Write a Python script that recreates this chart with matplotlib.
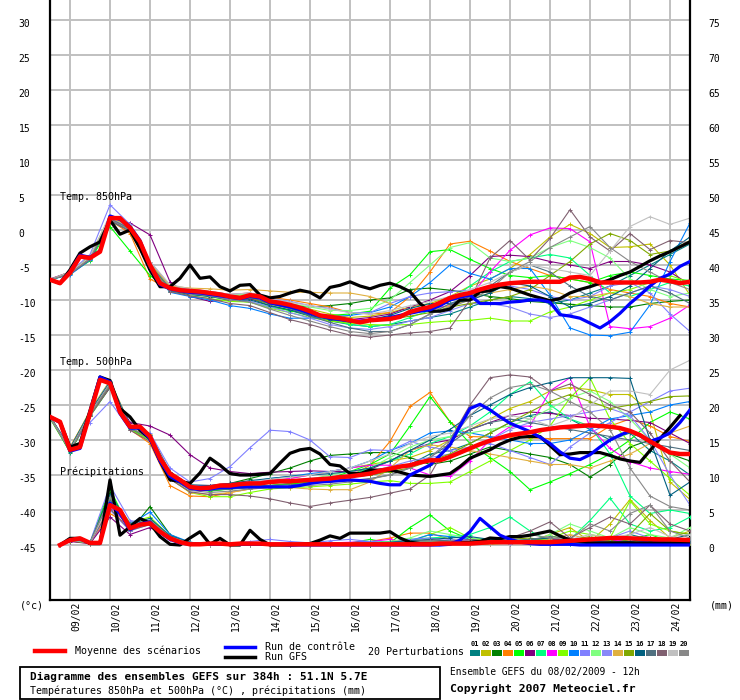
import numpy as np
import matplotlib
matplotlib.use('Agg')
import matplotlib.pyplot as plt
from matplotlib.lines import Line2D
from matplotlib.patches import Rectangle
from matplotlib.transforms import ScaledTranslation

plt.rcParams['font.family'] = ['DejaVu Sans Mono', 'DejaVu Sans']

# ---------------- DATA ----------------
DATES = ['09/02', '10/02', '11/02', '12/02', '13/02', '14/02', '15/02', '16/02',
         '17/02', '18/02', '19/02', '20/02', '21/02', '22/02', '23/02', '24/02']
HOURS_6 = list(range(0, 385, 6))          # main runs, 6-hourly
HOURS_12 = list(range(0, 385, 12))        # perturbations, 12-hourly
PRECIP_HOURS_6 = list(range(6, 385, 6))
PRECIP_HOURS_12 = [6] + list(range(12, 385, 12))

PERT_COLORS = ['#008080', '#c0c000', '#008000', '#ff8000', '#00ff00', '#800080', '#00ff80',
               '#ff00ff', '#80ff00', '#0080ff', '#8080ff', '#80ff80', '#8888f8', '#e0b040',
               '#80a800', '#006080', '#507080', '#806070', '#c0c0c0', '#888888']
PERT_NUMBERS = ['01', '02', '03', '04', '05', '06', '07', '08', '09', '10',
                '11', '12', '13', '14', '15', '16', '17', '18', '19', '20']

T850_MEAN = [-7.1, -7.6, -6.1, -3.8, -4.0, -3.1, 1.7, 1.7, 0.3, -1.7,
             -5.0, -7.6, -8.3, -8.6, -8.7, -8.8, -9.0, -9.2, -9.5, -9.7,
             -9.3, -9.5, -10.2, -10.4, -10.7, -11.1, -11.6, -12.2, -12.4, -12.6,
             -12.9, -13.2, -12.9, -12.8, -12.7, -12.4, -11.7, -11.3, -11.0, -10.4,
             -9.7, -9.3, -9.0, -8.5, -8.1, -7.8, -7.6, -7.5, -7.4, -7.4,
             -7.4, -7.4, -6.8, -6.7, -7.0, -7.5, -7.5, -7.5, -7.5, -7.5,
             -7.4, -7.1, -7.3, -7.6, -7.4]
T850_GFS = [-7.1, -7.6, -5.7, -3.3, -2.4, -1.7, 1.4, -0.6, 0.0, -2.6,
            -5.7, -8.1, -8.1, -6.9, -5.0, -6.9, -6.7, -8.1, -8.7, -7.9,
            -7.8, -9.3, -9.7, -9.5, -9.0, -8.6, -8.9, -9.7, -8.2, -7.9,
            -7.4, -8.0, -8.4, -7.9, -7.6, -8.1, -8.8, -10.5, -11.6, -11.6,
            -11.3, -10.0, -10.0, -8.8, -8.7, -8.1, -8.3, -8.8, -9.3, -9.7,
            -10.1, -9.8, -9.0, -8.5, -8.1, -7.6, -7.1, -6.5, -6.0, -5.2,
            -4.4, -3.7, -3.1, -2.4, -1.7]
T850_CTRL = [-7.1, -7.6, -6.0, -3.6, -3.9, -3.0, 2.0, 1.5, 0.5, -1.5,
             -5.2, -7.8, -8.4, -8.7, -8.9, -9.0, -9.2, -9.4, -9.6, -9.8,
             -9.5, -9.7, -10.4, -10.7, -11.0, -11.4, -11.9, -12.3, -12.6, -12.8,
             -13.0, -13.1, -12.9, -12.7, -12.5, -12.2, -11.9, -11.6, -11.4, -10.8,
             -10.0, -9.6, -9.3, -10.5, -10.5, -10.5, -10.3, -10.2, -10.0, -10.0,
             -10.3, -12.1, -12.3, -12.6, -13.3, -14.0, -13.1, -11.9, -10.5, -9.3,
             -8.0, -6.9, -6.3, -5.2, -4.5]

T500_MEAN = [-26.7, -27.4, -31.4, -31.0, -26.2, -21.4, -21.9, -26.0, -28.1, -28.1,
             -29.5, -32.6, -34.8, -35.7, -36.7, -36.9, -36.8, -36.5, -36.5, -36.3,
             -36.2, -36.2, -36.0, -35.9, -35.9, -35.8, -35.7, -35.6, -35.5, -35.3,
             -35.2, -35.0, -34.8, -34.4, -34.1, -33.8, -33.6, -33.2, -32.9, -32.9,
             -32.4, -31.8, -31.2, -30.6, -30.1, -29.7, -29.3, -29.1, -28.9, -28.6,
             -28.4, -28.2, -28.1, -28.0, -27.9, -28.0, -28.1, -28.3, -28.7, -29.3,
             -30.2, -31.0, -31.8, -32.0, -32.0]
T500_GFS = [-26.7, -27.4, -31.0, -30.5, -25.8, -21.0, -21.5, -25.5, -26.7, -28.6,
            -29.8, -33.0, -35.7, -35.9, -36.2, -34.7, -32.6, -33.6, -34.8, -35.0,
            -35.0, -34.9, -34.8, -33.3, -31.9, -31.4, -31.2, -32.0, -33.5, -33.7,
            -34.8, -34.8, -34.3, -34.3, -34.3, -34.6, -35.0, -35.1, -35.2, -35.0,
            -34.8, -33.8, -32.6, -32.0, -31.4, -30.6, -30.0, -29.6, -29.5, -29.5,
            -30.8, -32.1, -32.0, -31.8, -31.8, -31.8, -32.2, -32.7, -33.0, -33.2,
            -31.5, -29.8, -28.2, -26.5]
T500_CTRL = [-26.7, -27.5, -31.6, -31.2, -26.0, -21.0, -21.7, -26.2, -28.3, -28.3,
             -29.8, -33.0, -35.2, -36.0, -36.9, -37.1, -37.0, -36.8, -36.8, -36.7,
             -36.7, -36.7, -36.7, -36.7, -36.7, -36.5, -36.2, -36.0, -35.9, -35.8,
             -35.7, -35.8, -35.9, -36.2, -36.4, -36.4, -35.0, -34.3, -33.6, -32.2,
             -30.7, -28.0, -25.5, -24.9, -25.7, -26.7, -27.6, -28.2, -28.8, -29.6,
             -30.5, -31.7, -32.6, -32.8, -32.1, -31.0, -30.0, -29.3, -28.7, -29.4,
             -30.2, -29.7, -29.0, -27.5, -25.7]

PRECIP_MEAN = [0.0, 0.7, 0.95, 0.3, 0.3, 5.7, 5.0, 2.4, 2.9, 3.1,
               1.9, 0.95, 0.4, 0.1, 0.1, 0.2, 0.2, 0.1, 0.2, 0.2,
               0.2, 0.1, 0.1, 0.1, 0.1, 0.1, 0.1, 0.1, 0.1, 0.1,
               0.1, 0.1, 0.1, 0.1, 0.1, 0.1, 0.1, 0.1, 0.2, 0.2,
               0.2, 0.2, 0.3, 0.4, 0.4, 0.4, 0.4, 0.4, 0.4, 0.4,
               0.5, 0.6, 0.7, 0.8, 0.9, 1.0, 1.0, 0.95, 0.9, 0.85,
               0.8, 0.8, 0.75, 0.7]
PRECIP_GFS = [0.0, 0.95, 0.95, 0.2, 0.2, 9.3, 1.4, 2.6, 3.8, 3.1,
              1.2, 0.1, 0.0, 1.0, 1.9, 0.1, 0.95, 0.0, 0.0, 2.1,
              0.8, 0.0, 0.0, 0.0, 0.1, 0.2, 0.7, 1.3, 0.95, 1.7,
              1.7, 1.7, 1.7, 1.9, 1.0, 0.4, 0.2, 0.2, 0.2, 0.2,
              0.3, 0.4, 0.5, 1.0, 0.9, 1.2, 1.2, 1.4, 1.7, 2.0,
              1.3, 0.7, 0.5, 0.3, 0.3, 0.3, 0.3, 0.3, 0.3, 0.3,
              0.3, 0.3, 0.3, 0.3]
PRECIP_CTRL = [0.0, 0.7, 0.9, 0.3, 0.3, 6.0, 4.5, 2.2, 3.0, 3.3,
               1.8, 0.8, 0.3, 0.1, 0.1, 0.1, 0.1, 0.1, 0.1, 0.1,
               0.1, 0.1, 0.1, 0.0, 0.0, 0.0, 0.0, 0.0, 0.0, 0.0,
               0.0, 0.0, 0.0, 0.0, 0.0, 0.0, 0.0, 0.0, 0.0, 0.1,
               0.7, 1.9, 3.8, 2.6, 1.4, 0.8, 0.4, 0.2, 0.1, 0.1,
               0.1, 0.1, 0.0, 0.0, 0.0, 0.0, 0.0, 0.0, 0.0, 0.0,
               0.0, 0.0, 0.0, 0.0]

T850_P01 = [-7.1, -6.3, -4.3, 1.5, 0.0, -5.5, -8.5, -9.0, -9.3, -9.8, -9.8, -10.8, -11.5, -12.3, -13.0, -13.5, -13.8, -13.5, -13.0, -12.5, -12.0, -11.0, -10.0, -9.5, -9.8, -10.5, -10.0, -9.0, -8.0, -6.5, -5.0, -3.5, -2.0]
T850_P02 = [-7.2, -6.0, -3.8, 2.0, 0.6, -4.6, -8.0, -8.6, -9.0, -9.4, -9.2, -10.0, -10.6, -11.3, -12.0, -12.5, -12.3, -11.8, -11.0, -10.5, -9.5, -8.0, -7.0, -5.5, -3.5, -1.0, 0.8, -0.5, -2.5, -2.4, -2.0, -5.0, -9.3]
T850_P03 = [-7.1, -6.2, -4.1, 1.6, 0.2, -5.2, -8.4, -8.9, -9.1, -9.6, -9.5, -10.3, -10.8, -11.0, -10.8, -10.5, -10.0, -9.7, -8.5, -8.3, -8.6, -9.0, -9.5, -9.8, -10.2, -10.4, -10.6, -10.8, -11.0, -11.0, -10.5, -10.2, -10.0]
T850_P04 = [-7.1, -6.0, -4.2, 1.4, -0.5, -7.0, -8.5, -8.5, -8.8, -9.2, -9.0, -9.6, -10.0, -10.5, -11.0, -11.8, -12.0, -11.8, -9.5, -6.0, -2.0, -1.6, -3.0, -4.5, -5.5, -6.5, -7.0, -7.5, -8.5, -9.0, -9.5, -10.5, -11.0]
T850_P05 = [-7.1, -6.2, -4.4, 0.5, -3.0, -6.5, -8.6, -9.2, -9.5, -10.0, -10.3, -11.0, -11.5, -12.0, -12.2, -12.0, -11.6, -8.3, -6.4, -3.1, -2.8, -4.2, -5.5, -6.5, -6.8, -6.5, -7.0, -7.5, -6.5, -6.0, -6.5, -7.0, -7.2]
T850_P06 = [-7.0, -6.0, -4.0, 1.5, 1.0, -0.7, -7.4, -9.5, -10.2, -10.0, -9.8, -10.5, -11.0, -11.8, -12.5, -12.8, -12.5, -12.0, -11.0, -10.0, -8.8, -6.5, -3.8, -3.6, -3.8, -4.5, -5.0, -5.5, -4.5, -4.5, -5.0, -6.0, -7.8]
T850_P07 = [-7.2, -6.2, -4.0, 1.8, 0.5, -5.0, -8.2, -8.8, -9.3, -9.7, -9.6, -10.4, -11.2, -12.0, -12.8, -13.5, -13.8, -13.5, -12.5, -11.5, -10.0, -8.0, -6.0, -4.5, -4.0, -3.5, -4.0, -6.5, -9.0, -9.5, -8.5, -7.5, -8.0]
T850_P08 = [-7.1, -6.1, -4.1, 1.6, 0.3, -5.1, -8.3, -8.8, -9.0, -9.6, -9.4, -10.4, -11.0, -11.8, -12.3, -12.8, -12.8, -12.5, -11.8, -11.2, -10.8, -9.5, -6.0, -2.9, -0.7, 0.3, 0.2, -1.7, -13.8, -14.1, -13.8, -12.6, -10.7]
T850_P09 = [-7.1, -6.3, -4.2, 1.2, 0.0, -5.3, -8.8, -9.4, -9.8, -10.2, -10.3, -11.2, -11.8, -12.5, -13.0, -13.3, -13.5, -13.6, -13.5, -13.2, -13.0, -12.9, -12.6, -13.0, -13.0, -11.7, -11.0, -10.0, -9.0, -8.5, -7.5, -6.5, -7.5]
T850_P10 = [-7.1, -6.4, -4.3, 1.3, 0.0, -5.4, -8.9, -9.5, -10.0, -10.8, -11.2, -12.0, -12.6, -12.6, -12.4, -12.2, -11.8, -11.0, -9.5, -7.5, -5.0, -6.2, -7.0, -5.5, -5.5, -9.3, -14.0, -15.0, -15.1, -14.6, -10.7, -4.5, 1.0]
T850_P11 = [-7.1, -6.0, -3.5, 3.6, 0.8, -4.5, -8.0, -8.5, -8.8, -9.2, -9.0, -9.8, -10.2, -10.8, -11.2, -11.8, -11.8, -10.5, -9.5, -9.0, -8.8, -8.6, -8.4, -8.0, -8.5, -9.5, -10.0, -9.5, -8.0, -7.5, -9.0, -12.0, -14.5]
T850_P12 = [-7.1, -6.1, -3.9, 1.9, 0.4, -4.8, -8.2, -8.6, -8.9, -9.3, -9.2, -10.0, -10.5, -11.0, -11.5, -11.5, -11.2, -10.0, -7.5, -5.0, -2.5, -1.8, -4.0, -4.5, -4.0, -2.5, -1.5, -2.5, -4.0, -7.0, -8.5, -9.5, -9.0]
T850_P13 = [-7.1, -6.2, -4.0, 1.7, 0.2, -5.0, -8.4, -8.9, -9.4, -9.9, -10.2, -11.0, -11.8, -12.6, -13.5, -14.0, -14.2, -13.8, -13.0, -12.5, -11.5, -10.5, -10.5, -11.0, -12.0, -12.5, -12.0, -11.0, -10.0, -9.0, -8.0, -8.5, -9.5]
T850_P14 = [-7.1, -6.0, -4.0, 1.8, 0.5, -4.8, -8.0, -8.3, -8.4, -8.6, -8.5, -8.7, -8.9, -8.9, -9.0, -9.0, -9.5, -10.5, -11.5, -11.5, -10.8, -10.0, -9.0, -8.5, -8.0, -8.5, -9.5, -9.5, -9.0, -9.5, -10.5, -11.0, -11.0]
T850_P15 = [-7.1, -6.2, -4.1, 1.5, 0.1, -5.2, -8.5, -9.0, -9.2, -9.7, -9.7, -10.6, -11.2, -12.0, -12.8, -13.2, -13.0, -12.8, -12.3, -11.8, -11.0, -10.5, -10.0, -9.5, -8.5, -6.5, -4.5, -2.0, -0.5, -1.5, -3.5, -3.0, -1.5]
T850_P16 = [-7.1, -6.2, -4.2, 1.4, 0.0, -5.6, -8.7, -9.2, -9.5, -10.0, -10.0, -10.8, -11.4, -12.2, -12.8, -13.0, -12.8, -12.2, -11.2, -10.5, -10.5, -10.0, -9.0, -7.5, -8.0, -9.5, -11.0, -10.5, -9.5, -8.0, -5.5, -3.0, -1.0]
T850_P17 = [-7.1, -6.1, -4.1, 1.6, 0.2, -5.0, -8.3, -8.8, -9.1, -9.6, -9.6, -10.5, -11.2, -12.3, -13.2, -14.0, -14.5, -14.5, -13.5, -12.0, -10.5, -9.5, -8.0, -6.0, -5.0, -6.0, -8.0, -9.5, -10.0, -9.0, -8.0, -9.0, -10.5]
T850_P18 = [-7.1, -6.3, -4.2, 1.3, -0.2, -5.5, -8.8, -9.4, -9.8, -10.5, -10.8, -11.8, -12.8, -13.5, -14.3, -15.0, -15.3, -15.0, -14.7, -14.5, -14.0, -10.0, -4.0, -1.5, -4.3, -1.2, 2.9, -1.0, -3.0, -0.5, -2.8, -1.5, -1.8]
T850_P19 = [-7.1, -6.0, -3.9, 2.2, 0.7, -4.5, -7.8, -8.4, -8.8, -9.2, -9.0, -9.8, -10.3, -10.8, -11.3, -11.8, -12.0, -11.5, -10.8, -10.2, -9.5, -8.5, -7.5, -6.0, -5.0, -5.5, -6.0, -6.5, -3.0, 0.5, 1.9, 0.8, 1.7]
T850_P20 = [-7.1, -6.2, -4.1, 1.5, 0.0, -5.3, -8.6, -9.1, -9.4, -10.0, -10.3, -11.3, -12.2, -13.0, -13.8, -14.5, -14.8, -14.5, -13.5, -12.0, -11.0, -10.0, -8.5, -6.0, -4.5, -2.5, -1.0, 0.5, -2.5, -4.5, -6.0, -7.5, -8.5]

T500_P01 = [-26.5, -31.8, -26.5, -22.2, -28.3, -29.8, -35.2, -37.0, -37.2, -37.0, -36.8, -36.5, -36.2, -35.8, -35.5, -35.3, -35.0, -34.5, -33.5, -32.0, -31.5, -30.5, -29.0, -27.5, -26.5, -26.0, -27.0, -28.5, -30.0, -29.0, -31.5, -33.0, -35.0]
T500_P02 = [-26.8, -31.2, -25.8, -21.5, -27.8, -29.2, -34.5, -36.5, -36.5, -36.2, -36.0, -35.8, -35.5, -35.0, -34.5, -34.0, -33.5, -33.0, -32.5, -31.5, -30.0, -28.5, -27.0, -25.5, -24.5, -23.0, -22.5, -22.8, -23.5, -23.5, -26.0, -36.0, -38.5]
T500_P03 = [-26.7, -31.5, -26.3, -22.0, -28.2, -29.6, -35.0, -36.8, -36.6, -36.2, -35.5, -34.8, -34.0, -33.0, -32.2, -32.0, -31.8, -31.8, -32.5, -33.5, -33.0, -32.0, -31.0, -31.5, -32.0, -32.5, -33.5, -35.3, -33.5, -31.0, -30.0, -32.0, -33.0]
T500_P04 = [-26.7, -31.0, -26.0, -22.2, -28.5, -30.5, -36.5, -38.0, -38.1, -37.5, -37.0, -36.5, -36.3, -36.0, -35.8, -35.2, -33.6, -30.2, -25.2, -23.2, -27.4, -29.5, -29.6, -29.5, -29.7, -29.8, -29.8, -29.8, -28.0, -27.0, -28.0, -29.5, -30.2]
T500_P05 = [-26.9, -31.7, -26.6, -22.5, -28.4, -30.0, -35.5, -37.0, -37.3, -37.0, -36.5, -36.5, -36.3, -36.0, -35.5, -34.5, -33.5, -32.0, -28.0, -23.8, -27.4, -30.5, -32.5, -34.5, -37.1, -36.0, -34.8, -33.5, -32.0, -30.0, -27.5, -26.0, -27.0]
T500_P06 = [-26.7, -31.4, -26.4, -22.5, -27.5, -28.0, -29.3, -32.1, -34.0, -34.5, -34.8, -34.6, -34.5, -34.4, -34.5, -34.5, -34.2, -33.0, -31.5, -30.5, -30.0, -28.5, -27.5, -26.5, -26.0, -26.2, -26.5, -26.9, -27.0, -27.2, -27.5, -29.0, -30.5]
T500_P07 = [-26.8, -31.2, -26.0, -21.7, -28.0, -29.4, -34.8, -36.7, -36.9, -36.6, -36.4, -36.2, -36.0, -35.8, -35.5, -35.0, -34.0, -33.0, -32.0, -30.5, -29.5, -28.0, -26.0, -23.5, -21.7, -25.0, -27.0, -28.0, -32.0, -38.0, -40.5, -40.0, -40.5]
T500_P08 = [-26.7, -31.4, -26.2, -21.9, -28.1, -29.5, -34.8, -36.5, -36.5, -36.2, -36.0, -35.8, -35.5, -35.0, -34.5, -34.0, -33.6, -33.6, -34.0, -35.0, -35.2, -33.0, -30.0, -28.1, -28.0, -23.0, -21.1, -28.1, -31.2, -33.1, -34.0, -34.5, -34.9]
T500_P09 = [-26.8, -31.6, -26.5, -22.3, -28.5, -30.0, -35.5, -37.5, -38.1, -38.1, -37.5, -37.0, -36.8, -36.7, -36.5, -36.3, -36.0, -35.8, -36.2, -36.2, -36.0, -34.5, -33.0, -31.5, -30.0, -28.0, -24.0, -21.1, -27.0, -30.5, -33.0, -35.5, -37.9]
T500_P10 = [-26.6, -31.3, -26.1, -21.8, -28.0, -29.6, -35.0, -36.8, -37.0, -36.6, -36.0, -35.5, -35.2, -34.8, -34.5, -34.0, -33.0, -31.5, -30.5, -29.0, -28.7, -29.0, -29.5, -30.0, -30.5, -30.5, -30.0, -28.5, -27.0, -26.5, -26.0, -25.0, -24.5]
T500_P11 = [-26.7, -31.0, -27.5, -24.5, -28.5, -29.0, -34.0, -36.0, -35.5, -33.8, -31.1, -28.6, -28.8, -30.0, -32.4, -32.5, -31.4, -31.5, -30.2, -31.0, -31.5, -31.0, -30.5, -31.5, -32.5, -33.5, -31.0, -29.0, -27.5, -26.0, -24.5, -23.0, -22.6]
T500_P12 = [-26.7, -31.5, -26.3, -22.0, -28.2, -29.6, -35.0, -36.9, -37.0, -36.8, -36.5, -36.2, -36.0, -35.6, -35.0, -34.5, -34.0, -32.5, -31.0, -30.0, -29.5, -29.0, -28.5, -28.0, -27.0, -25.5, -24.0, -23.0, -24.5, -27.0, -30.0, -32.0, -34.0]
T500_P13 = [-26.8, -31.3, -26.0, -21.6, -27.9, -29.3, -34.6, -36.5, -36.7, -36.4, -36.1, -35.9, -35.7, -35.5, -35.3, -35.0, -34.5, -33.8, -33.0, -32.5, -32.0, -31.0, -30.0, -28.5, -27.5, -27.0, -26.5, -26.0, -25.5, -26.5, -30.0, -35.0, -39.3]
T500_P14 = [-26.6, -31.3, -26.1, -21.8, -28.0, -29.4, -35.5, -37.5, -37.8, -37.5, -37.0, -36.8, -36.8, -37.0, -37.1, -37.1, -36.0, -34.0, -31.5, -30.7, -31.0, -31.5, -32.0, -32.5, -33.0, -33.5, -33.5, -34.0, -33.0, -32.0, -30.5, -29.0, -28.0]
T500_P15 = [-26.7, -31.4, -26.2, -22.0, -28.2, -29.7, -35.0, -36.9, -37.0, -36.7, -36.4, -36.1, -36.0, -35.8, -35.5, -35.3, -35.0, -34.5, -34.0, -33.0, -32.0, -30.5, -29.0, -27.5, -26.0, -24.5, -23.5, -24.5, -25.5, -25.0, -24.5, -23.8, -23.7]
T500_P16 = [-26.6, -31.2, -26.0, -21.7, -27.9, -29.3, -34.6, -36.4, -36.5, -36.2, -35.8, -35.5, -35.2, -35.0, -34.8, -34.5, -34.0, -33.0, -31.5, -30.0, -28.5, -26.5, -25.0, -23.5, -22.5, -21.8, -21.1, -21.1, -21.1, -21.2, -30.0, -37.9, -36.0]
T500_P17 = [-26.7, -31.5, -26.4, -22.1, -28.3, -29.8, -35.2, -37.0, -37.2, -37.0, -36.8, -36.5, -36.4, -36.2, -36.0, -35.8, -35.5, -35.0, -34.0, -32.5, -30.5, -28.5, -27.5, -27.0, -27.5, -28.0, -28.5, -29.0, -29.5, -30.0, -30.5, -31.0, -31.5]
T500_P18 = [-26.8, -31.6, -26.6, -22.4, -28.6, -30.2, -35.6, -37.4, -37.8, -37.8, -38.0, -38.4, -39.0, -39.5, -39.0, -38.6, -38.2, -37.6, -37.0, -35.0, -30.0, -25.0, -21.1, -20.7, -21.0, -23.0, -22.0, -23.5, -25.0, -26.0, -29.0, -33.0, -36.0]
T500_P19 = [-26.7, -31.4, -26.2, -21.9, -28.1, -29.5, -34.7, -36.6, -36.7, -36.4, -36.0, -35.6, -35.3, -35.0, -34.5, -34.0, -33.0, -32.0, -30.5, -29.5, -29.0, -28.0, -27.0, -26.5, -27.0, -28.0, -27.0, -25.0, -23.0, -23.0, -23.5, -20.0, -18.6]
T500_P20 = [-26.7, -31.5, -26.3, -22.0, -28.2, -29.8, -35.3, -37.2, -37.5, -37.3, -37.0, -36.8, -36.6, -36.5, -36.3, -36.0, -35.6, -35.0, -34.0, -32.5, -30.0, -26.5, -24.0, -22.5, -22.0, -23.0, -24.5, -26.0, -28.5, -34.0, -38.0, -39.5, -40.0]

PR_P01 = [0, 0.7, 0.3, 6.0, 2.5, 3.0, 1.0, 0.2, 0.1, 0, 0.1, 0, 0, 0, 0.2, 0.1, 0, 0, 0.1, 0.3, 0.5, 0.2, 0.3, 0.8, 0.4, 0.2, 0.5, 1.0, 0.5, 1.5, 0.8, 0.5, 1.0]
PR_P02 = [0, 0.6, 0.2, 5.0, 3.0, 3.5, 1.2, 0.3, 0, 0, 0, 0.1, 0, 0, 0, 0, 0.1, 0.2, 0.3, 0.5, 0.3, 0.2, 0.1, 0.3, 0.5, 1.5, 2.5, 0.5, 3.0, 6.5, 3.5, 1.0, 2.0]
PR_P03 = [0, 0.8, 0.3, 7.5, 2.0, 5.5, 1.5, 0.2, 0, 0.1, 0, 0, 0, 0, 0.1, 0, 0, 0.3, 0.8, 0.5, 0.3, 0.2, 0.5, 0.2, 0.3, 0.2, 0.1, 0.3, 0.4, 0.8, 0.5, 0.7, 0.5]
PR_P04 = [0, 0.7, 0.3, 4.5, 2.8, 3.2, 0.8, 0.1, 0, 0, 0, 0, 0, 0, 0.1, 0.2, 0.5, 1.0, 1.7, 1.7, 0.8, 0.5, 0.3, 0.2, 0.5, 0.8, 0.5, 0.3, 0.8, 0.5, 0.3, 0.5, 0.4]
PR_P05 = [0, 0.6, 0.3, 8.0, 2.2, 3.5, 1.0, 0.2, 0, 0, 0, 0, 0, 0.1, 0.2, 0.3, 0.8, 0.3, 2.5, 4.3, 2.0, 0.8, 0.5, 0.3, 0.2, 0.5, 1.0, 0.5, 0.3, 0.8, 1.5, 0.5, 0.3]
PR_P06 = [0, 0.5, 0.2, 4.0, 1.5, 2.5, 1.0, 0.3, 0, 0, 0, 0, 0, 0, 0, 0.1, 0.2, 0.1, 0.2, 0.3, 0.4, 0.2, 0.2, 0.3, 0.5, 0.8, 0.6, 0.4, 0.5, 1.0, 0.6, 0.4, 0.5]
PR_P07 = [0, 0.7, 0.3, 6.5, 2.8, 3.0, 1.2, 0.2, 0, 0, 0, 0, 0, 0, 0.1, 0.1, 0.2, 0.5, 0.8, 1.0, 1.2, 1.5, 2.5, 4.0, 2.0, 0.5, 0.8, 3.5, 6.7, 3.0, 2.0, 2.5, 4.0]
PR_P08 = [0, 0.7, 0.3, 5.5, 2.6, 3.3, 1.0, 0.3, 0, 0, 0.1, 0.2, 0.1, 0.2, 0.3, 0.4, 0.5, 0.8, 0.3, 0.2, 0.5, 0.8, 0.5, 0.3, 0.6, 1.0, 0.5, 0.5, 0.8, 0.4, 0.5, 0.6, 0.4]
PR_P09 = [0, 0.6, 0.3, 7.0, 3.2, 4.0, 1.3, 0.2, 0, 0, 0, 0, 0, 0, 0, 0.1, 0.2, 0.3, 0.5, 1.5, 2.5, 1.0, 0.5, 0.3, 0.4, 1.0, 2.0, 1.5, 1.0, 6.3, 3.0, 2.0, 1.5]
PR_P10 = [0, 0.8, 0.4, 6.0, 3.0, 4.7, 1.5, 0.4, 0.1, 0, 0.2, 0.1, 0, 0, 0.2, 0.3, 0.5, 0.3, 0.6, 1.5, 1.2, 0.8, 0.4, 0.3, 0.2, 0.3, 0.2, 0.4, 0.3, 0.5, 0.3, 0.2, 0.3]
PR_P11 = [0, 0.9, 0.4, 8.5, 3.5, 3.0, 1.0, 0.3, 0.1, 0.2, 0.5, 0.8, 0.5, 0.3, 0.6, 0.8, 0.5, 0.3, 0.8, 1.0, 0.5, 0.3, 0.2, 0.3, 0.5, 0.4, 0.3, 0.5, 0.4, 0.5, 0.8, 0.5, 0.4]
PR_P12 = [0, 0.7, 0.3, 6.8, 2.5, 3.6, 1.1, 0.2, 0, 0, 0, 0, 0, 0, 0.1, 0.2, 0.3, 0.5, 1.0, 2.0, 1.5, 1.0, 0.8, 0.5, 0.3, 1.5, 3.0, 2.0, 1.0, 2.5, 1.5, 1.0, 2.5]
PR_P13 = [0, 0.7, 0.3, 5.0, 2.0, 3.0, 0.9, 0.2, 0, 0, 0, 0, 0, 0, 0.2, 0.3, 0.2, 0.1, 0.3, 0.5, 0.8, 0.5, 0.3, 0.2, 0.3, 0.2, 0.4, 0.3, 1.0, 2.0, 1.0, 0.5, 0.8]
PR_P14 = [0, 0.7, 0.3, 5.8, 2.7, 3.2, 1.0, 0.3, 0.2, 0, 0, 0, 0, 0, 0, 0, 0.1, 0.2, 0.5, 0.8, 0.5, 0.3, 0.2, 0.5, 0.3, 0.8, 1.5, 0.8, 0.5, 0.3, 1.0, 0.5, 0.3]
PR_P15 = [0, 0.6, 0.3, 6.2, 2.3, 3.4, 1.2, 0.3, 0, 0, 0, 0, 0, 0, 0, 0.1, 0.1, 0.2, 0.3, 0.5, 0.4, 0.3, 0.5, 0.8, 1.0, 0.5, 0.8, 1.2, 0.6, 1.5, 4.5, 2.0, 1.5]
PR_P16 = [0, 0.7, 0.3, 7.2, 3.0, 3.8, 1.3, 0.4, 0, 0, 0, 0, 0, 0, 0.1, 0.2, 0.3, 0.4, 0.6, 0.8, 1.0, 1.2, 0.8, 0.6, 0.8, 1.0, 0.5, 0.3, 0.4, 0.5, 1.0, 0.8, 1.5]
PR_P17 = [0, 0.8, 0.3, 6.5, 2.4, 3.3, 1.1, 0.3, 0, 0, 0, 0, 0, 0, 0.1, 0.1, 0.2, 0.3, 0.5, 0.7, 0.6, 0.4, 0.3, 0.5, 0.8, 1.2, 1.0, 0.5, 0.8, 1.0, 0.6, 0.8, 0.5]
PR_P18 = [0, 0.9, 0.4, 5.2, 2.1, 2.9, 1.0, 0.2, 0, 0, 0, 0, 0, 0, 0, 0, 0.1, 0.1, 0.2, 0.3, 0.5, 0.8, 0.5, 1.0, 2.0, 3.3, 1.0, 2.5, 4.0, 3.0, 5.7, 3.0, 2.0]
PR_P19 = [0, 0.7, 0.3, 6.0, 2.6, 3.1, 1.0, 0.3, 0, 0, 0, 0, 0, 0, 0, 0.1, 0.1, 0.2, 0.3, 0.4, 0.3, 0.2, 0.3, 0.4, 0.6, 0.5, 0.8, 1.5, 1.0, 1.5, 2.5, 1.2, 1.5]
PR_P20 = [0, 0.8, 0.3, 6.8, 2.9, 3.5, 1.2, 0.3, 0.1, 0, 0, 0, 0, 0, 0, 0, 0.1, 0.2, 0.4, 0.6, 0.4, 0.3, 0.5, 0.8, 1.5, 1.0, 0.8, 3.0, 2.0, 4.5, 5.7, 2.0, 1.0]

T850_PERTS = [T850_P01, T850_P02, T850_P03, T850_P04, T850_P05, T850_P06, T850_P07, T850_P08, T850_P09, T850_P10,
              T850_P11, T850_P12, T850_P13, T850_P14, T850_P15, T850_P16, T850_P17, T850_P18, T850_P19, T850_P20]
T500_PERTS = [T500_P01, T500_P02, T500_P03, T500_P04, T500_P05, T500_P06, T500_P07, T500_P08, T500_P09, T500_P10,
              T500_P11, T500_P12, T500_P13, T500_P14, T500_P15, T500_P16, T500_P17, T500_P18, T500_P19, T500_P20]
PR_PERTS = [PR_P01, PR_P02, PR_P03, PR_P04, PR_P05, PR_P06, PR_P07, PR_P08, PR_P09, PR_P10,
            PR_P11, PR_P12, PR_P13, PR_P14, PR_P15, PR_P16, PR_P17, PR_P18, PR_P19, PR_P20]

LEFT_TICKS = list(range(-45, 31, 5))
RIGHT_TICKS = list(range(0, 76, 5))
PRECIP_OFFSET = 45   # right axis (mm) = left axis (degC) + 45

# ---------------- FIGURE ----------------
W, H = 740, 700
fig = plt.figure(figsize=(W / 100, H / 100), dpi=100)
fig.patch.set_facecolor('white')


def fx(px):
    return px / W


def fy(py):
    return 1 - py / H


ax = fig.add_axes([fx(50), fy(600), 640 / W, 600 / H])
ax.set_xlim(0, 384)
ylo, yhi = -370 / 7, 230 / 7
ax.set_ylim(ylo, yhi)
ax2 = ax.twinx()
ax2.set_ylim(ylo + PRECIP_OFFSET, yhi + PRECIP_OFFSET)

date_hours = [12 + 24 * i for i in range(len(DATES))]
ax.set_xticks(date_hours)
ax.set_xticklabels(DATES, rotation=90, fontsize=7, ha='center', va='top')
ax.set_yticks(LEFT_TICKS)
ax.set_yticklabels([str(v) for v in LEFT_TICKS], fontsize=7, ha='left')
ax2.set_yticks(RIGHT_TICKS)
ax2.set_yticklabels([str(v) for v in RIGHT_TICKS], fontsize=7, ha='left')

ax.tick_params(axis='x', length=0, pad=1.5)
ax.tick_params(axis='y', length=0, pad=22.5)
ax2.tick_params(axis='y', length=0, pad=13.5)

ax.grid(True, color='#c0c0c0', linewidth=1.4)
ax.set_axisbelow(True)

for s in ['top']:
    ax.spines[s].set_visible(False)
for s in ['left', 'right', 'bottom']:
    ax.spines[s].set_color('black')
    ax.spines[s].set_linewidth(1.6)
for s in ax2.spines.values():
    s.set_visible(False)

dx_dates = ScaledTranslation(0.06, 0, fig.dpi_scale_trans)
for lab in ax.get_xticklabels():
    lab.set_transform(lab.get_transform() + dx_dates)
dy_lab = ScaledTranslation(0, -0.03, fig.dpi_scale_trans)
for lab in ax.get_yticklabels() + ax2.get_yticklabels():
    lab.set_transform(lab.get_transform() + dy_lab)

# perturbations
for col, t850, t500, pr in zip(PERT_COLORS, T850_PERTS, T500_PERTS, PR_PERTS):
    kw = dict(color=col, lw=0.8, marker='+', ms=3, mew=0.7, zorder=2)
    ax.plot(HOURS_12, t850, **kw)
    ax.plot(HOURS_12, t500, **kw)
    ax2.plot(PRECIP_HOURS_12, pr, **kw)

# GFS, control, mean
ax.plot(HOURS_6, T850_GFS, color='black', lw=2.3, zorder=3)
ax.plot(HOURS_6[:len(T500_GFS)], T500_GFS, color='black', lw=2.3, zorder=3)
ax2.plot(PRECIP_HOURS_6, PRECIP_GFS, color='black', lw=2.3, zorder=3)

ax.plot(HOURS_6, T850_CTRL, color='#0000ff', lw=2.3, zorder=4)
ax.plot(HOURS_6, T500_CTRL, color='#0000ff', lw=2.3, zorder=4)
ax2.plot(PRECIP_HOURS_6, PRECIP_CTRL, color='#0000ff', lw=2.3, zorder=4)

ax.plot(HOURS_6, T850_MEAN, color='#ff0000', lw=3.2, zorder=5)
ax.plot(HOURS_6, T500_MEAN, color='#ff0000', lw=3.2, zorder=5)
ax2.plot(PRECIP_HOURS_6, PRECIP_MEAN, color='#ff0000', lw=3.2, zorder=5)

# in-plot labels
fs = 7.2
fig.text(fx(60), fy(197), 'Temp. 850hPa', fontsize=fs, va='center', ha='left')
fig.text(fx(60), fy(362), 'Temp. 500hPa', fontsize=fs, va='center', ha='left')
fig.text(fx(60), fy(472), 'Précipitations', fontsize=fs, va='center', ha='left')
fig.text(fx(20), fy(606), '(°c)', fontsize=fs, va='center', ha='left')
fig.text(fx(710), fy(606), '(mm)', fontsize=fs, va='center', ha='left')

# legend
fig.add_artist(Line2D([fx(35), fx(65)], [fy(651), fy(651)], color='#ff0000', lw=3.2))
fig.text(fx(75), fy(651), 'Moyenne des scénarios', fontsize=fs, va='center', ha='left')
fig.add_artist(Line2D([fx(225), fx(255)], [fy(647), fy(647)], color='#0000ff', lw=2.5))
fig.text(fx(265), fy(647), 'Run de contrôle', fontsize=fs, va='center', ha='left')
fig.add_artist(Line2D([fx(225), fx(255)], [fy(657), fy(657)], color='black', lw=2.5))
fig.text(fx(265), fy(657), 'Run GFS', fontsize=fs, va='center', ha='left')
fig.text(fx(368), fy(652), '20 Perturbations', fontsize=fs, va='center', ha='left')
for i, (col, num) in enumerate(zip(PERT_COLORS, PERT_NUMBERS)):
    x0 = 470 + 11 * i
    fig.add_artist(Rectangle((fx(x0), fy(655.5)), 10 / W, 5.5 / H, transform=fig.transFigure,
                             facecolor=col, edgecolor='none'))
    fig.text(fx(x0 + 5), fy(643.5), num, fontsize=5, fontweight='bold', va='center', ha='center')

# bottom info box
fig.add_artist(Rectangle((fx(20), fy(699)), 420 / W, 32 / H, transform=fig.transFigure,
                         facecolor='none', edgecolor='black', lw=1.3))
fig.text(fx(30), fy(677), 'Diagramme des ensembles GEFS sur 384h : 51.1N 5.7E',
         fontsize=8, fontweight='bold', va='center', ha='left')
fig.text(fx(30), fy(691), 'Températures 850hPa et 500hPa (°C) , précipitations (mm)',
         fontsize=fs, va='center', ha='left')
fig.text(fx(450), fy(672), 'Ensemble GEFS du 08/02/2009 - 12h', fontsize=6.9, va='center', ha='left')
fig.text(fx(450), fy(689), 'Copyright 2007 Meteociel.fr', fontsize=8.2, fontweight='bold',
         va='center', ha='left')

fig.savefig('out.png', dpi=100, facecolor='white')
